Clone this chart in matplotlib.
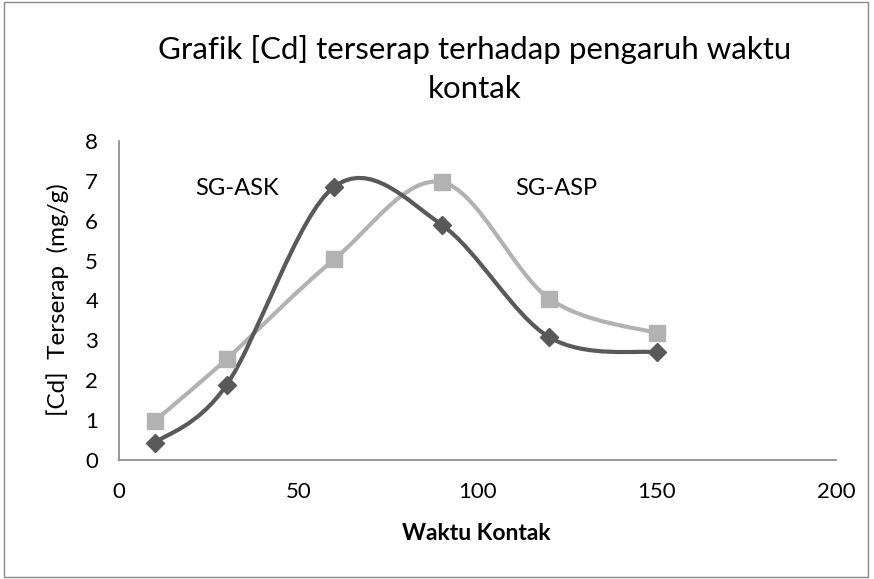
import numpy as np
from matplotlib import pyplot as plt
from matplotlib.path import Path
from matplotlib.patches import PathPatch, Rectangle

waktu = [10, 30, 60, 90, 120, 150]
sg_ask = [0.43, 1.88, 6.85, 5.9, 3.08, 2.7]
sg_asp = [0.98, 2.53, 5.03, 6.97, 4.05, 3.18]

DARK = "#595959"
LIGHT = "#b2b2b2"

plt.rcParams["font.family"] = ["Lato", "DejaVu Sans"]


def smooth_path(xs, ys):
    # bezier smoothing like the spreadsheet "smoothed line"
    pts = np.column_stack([xs, ys]).astype(float)
    n = len(pts)
    verts = [pts[0]]
    codes = [Path.MOVETO]
    for i in range(n - 1):
        p0 = pts[i - 1] if i > 0 else pts[i]
        p1 = pts[i]
        p2 = pts[i + 1]
        p3 = pts[i + 2] if i + 2 < n else pts[i + 1]
        c1 = p1 + (p2 - p0) / 6.0
        c2 = p2 - (p3 - p1) / 6.0
        verts += [c1, c2, p2]
        codes += [Path.CURVE4] * 3
    return Path(verts, codes)


fig = plt.figure(figsize=(8.74, 5.79), dpi=100)
fig.patches.append(Rectangle((0.005, 0.003), 0.988, 0.994, transform=fig.transFigure,
                             fill=False, edgecolor="#888888", linewidth=1))

ax = fig.add_axes([119 / 874, 1 - 460 / 579, (836 - 119) / 874, (460 - 141) / 579])

ax.add_patch(PathPatch(smooth_path(waktu, sg_ask), fill=False, edgecolor=DARK, linewidth=3, zorder=2))
ax.add_patch(PathPatch(smooth_path(waktu, sg_asp), fill=False, edgecolor=LIGHT, linewidth=3, zorder=1))
ax.plot(waktu, sg_asp, linestyle="none", marker="s", markersize=12, color=LIGHT, zorder=3)
ax.plot(waktu, sg_ask, linestyle="none", marker="D", markersize=9, color=DARK, zorder=4)

ax.set_xlim(0, 200)
ax.set_ylim(0, 8)
ax.set_xticks([0, 50, 100, 150, 200])
ax.set_yticks(range(0, 9))
ax.tick_params(axis="y", length=0, labelsize=16, pad=15)
ax.tick_params(axis="x", length=0, labelsize=16, pad=16)
for s in ["top", "right"]:
    ax.spines[s].set_visible(False)
for s in ["left", "bottom"]:
    ax.spines[s].set_color("#888888")
    ax.spines[s].set_linewidth(1.2)

ax.text(33, 6.8, "SG-ASK", fontsize=17, ha="center", va="center")
ax.text(122, 6.8, "SG-ASP", fontsize=17, ha="center", va="center")

fig.text(476 / 874, 1 - 533 / 579, "Waktu Kontak", fontsize=16.5, fontweight="bold",
         ha="center", va="center")
fig.text(58 / 874, 1 - 300 / 579, "[Cd]  Terserap  (mg/g)", fontsize=17.5, rotation=90,
         ha="center", va="center")

fig.text(475 / 874, 1 - 69 / 579, "Grafik [Cd] terserap terhadap pengaruh waktu\nkontak",
         ha="center", va="center", fontsize=22.5, linespacing=1.45)

plt.savefig("out.png", dpi=100)
